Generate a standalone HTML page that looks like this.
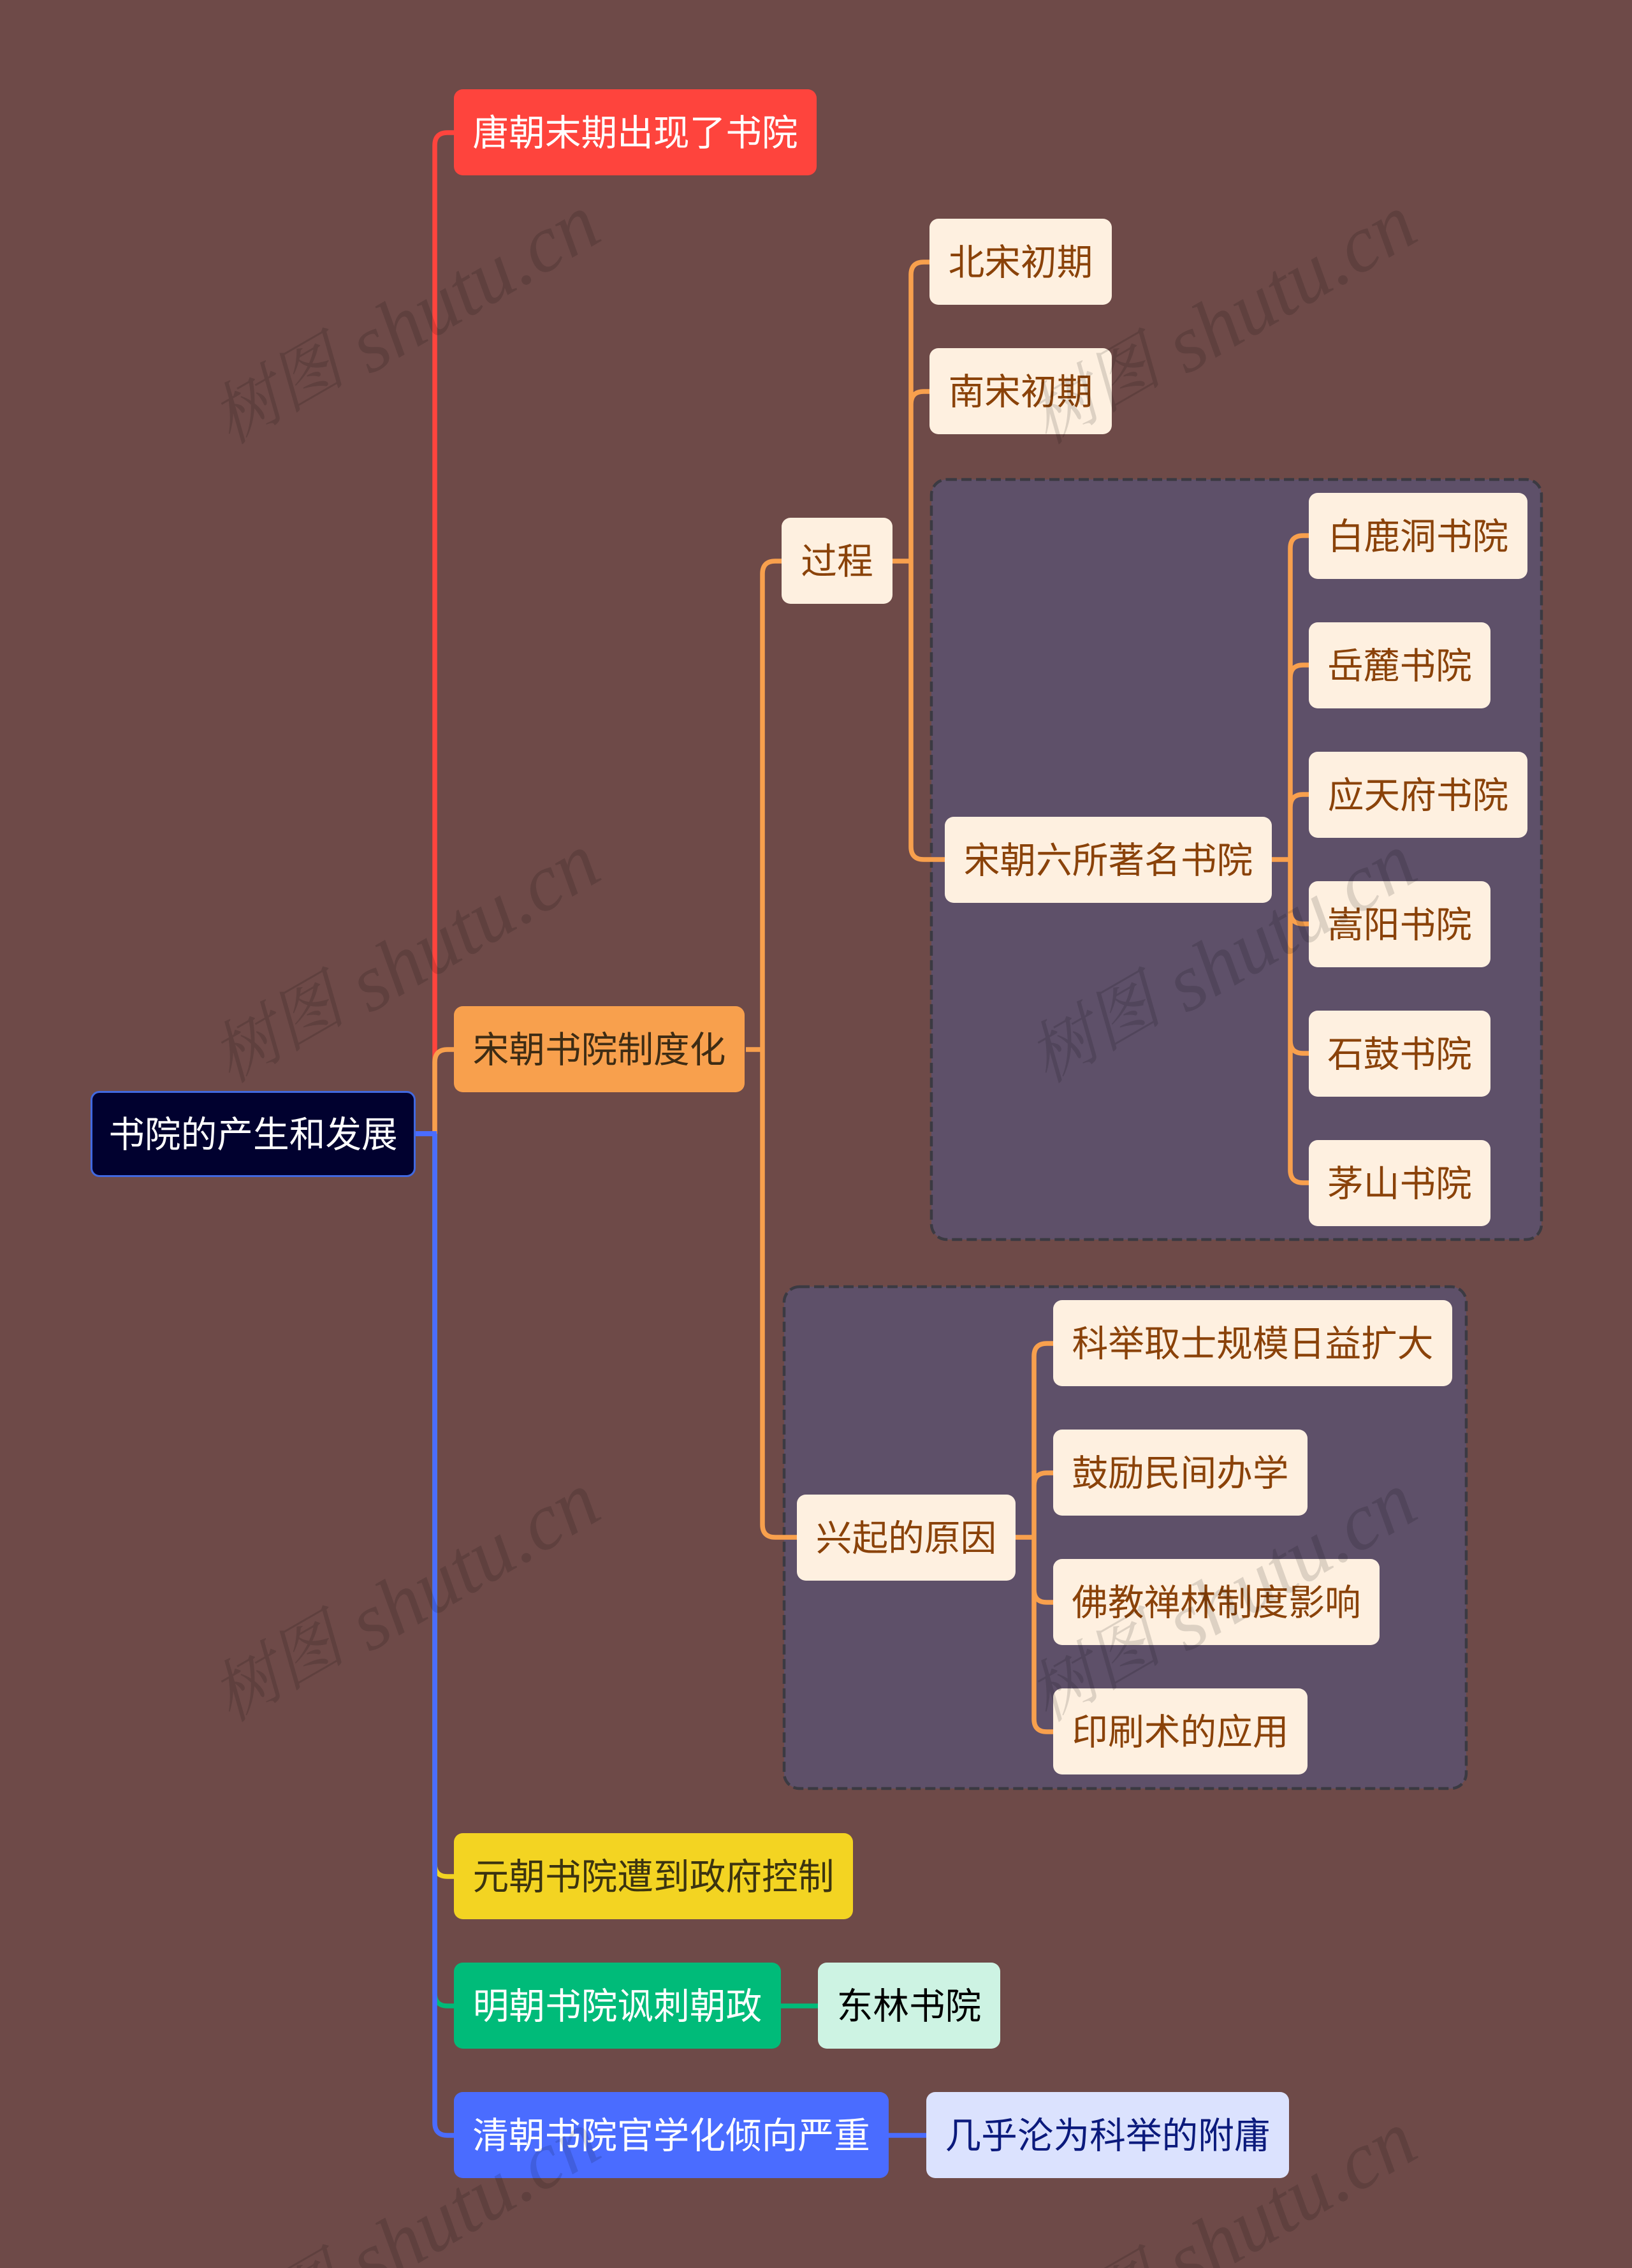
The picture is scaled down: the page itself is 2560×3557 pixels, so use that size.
<!DOCTYPE html>
<html lang="zh"><head><meta charset="utf-8"><title>书院的产生和发展</title>
<style>
html,body{margin:0;padding:0;background:#6e4a48}
#p{position:relative;width:2560px;height:3557px;overflow:hidden;background:#6e4a48;font-family:"Liberation Sans","WenQuanYi Zen Hei","Noto Sans CJK SC",sans-serif}
svg{position:absolute;left:0;top:0}
.n{position:absolute;box-sizing:border-box;height:135px;padding-top:6px;border-radius:14px;display:flex;align-items:center;justify-content:center;font-size:56.7px;line-height:1;white-space:nowrap}
.c{background:#fef0e0;color:#8a4209}
</style></head><body><div id="p">
<svg width="2560" height="3557" fill="none" stroke-width="7.5">
<rect x="1461" y="752" width="957" height="1192" rx="24" fill="#5e5069" stroke="#3b3a42" stroke-width="4.5" stroke-dasharray="16 7"/>
<rect x="1230" y="2018" width="1070" height="787" rx="24" fill="#5e5069" stroke="#3b3a42" stroke-width="4.5" stroke-dasharray="16 7"/>
<g stroke="#f8a04d">
<path d="M1170 1646H1196M1196 1646V900Q1196 880 1216 880H1226M1196 1646V2391Q1196 2411 1216 2411H1250"/>
<path d="M1400 880H1429M1429 880V431Q1429 411 1449 411H1459M1429 880V634Q1429 614 1449 614H1459M1429 880V1328Q1429 1348 1449 1348H1483"/>
<path d="M1995 1348H2024M2024 1348V860Q2024 840 2044 840H2053M2024 1348V1063Q2024 1043 2044 1043H2053M2024 1348V1266Q2024 1246 2044 1246H2053M2024 1348V1429Q2024 1449 2044 1449H2053M2024 1348V1632Q2024 1652 2044 1652H2053M2024 1348V1835Q2024 1855 2044 1855H2053"/>
<path d="M1593 2411H1622M1622 2411V2127Q1622 2107 1642 2107H1652M1622 2411V2330Q1622 2310 1642 2310H1652M1622 2411V2493Q1622 2513 1642 2513H1652M1622 2411V2696Q1622 2716 1642 2716H1652"/>
</g>
<path d="M682 1778V228Q682 208 702 208H712" stroke="#fe443d"/>
<path d="M682 1778V1666Q682 1646 702 1646H712" stroke="#f8a04d"/>
<path d="M682 1778V2923Q682 2943 702 2943H712" stroke="#f3d422"/>
<path d="M682 1778V3126Q682 3146 702 3146H712" stroke="#00bb79"/>
<path d="M682 1778V3329Q682 3349 702 3349H712" stroke="#4a6cff"/>
<path d="M652 1778H685" stroke="#4a6cff" stroke-width="8"/>
<path d="M1225 3146H1283" stroke="#00bb79"/>
<path d="M1394 3349H1453" stroke="#4a6cff"/>
</svg>
<div class="n" style="left:142px;top:1711px;width:510px;background:#01012f;color:#fff;border:3px solid #4169e0">书院的产生和发展</div>
<div class="n" style="left:712px;top:140px;width:569px;background:#fe443d;color:#fff">唐朝末期出现了书院</div>
<div class="n" style="left:712px;top:1578px;width:456px;background:#f8a04d;color:#3e2c14">宋朝书院制度化</div>
<div class="n c" style="left:1226px;top:812px;width:174px">过程</div>
<div class="n c" style="left:1458px;top:343px;width:286px">北宋初期</div>
<div class="n c" style="left:1458px;top:546px;width:286px">南宋初期</div>
<div class="n c" style="left:1482px;top:1281px;width:513px">宋朝六所著名书院</div>
<div class="n c" style="left:2053px;top:773px;width:343px">白鹿洞书院</div>
<div class="n c" style="left:2053px;top:976px;width:285px">岳麓书院</div>
<div class="n c" style="left:2053px;top:1179px;width:343px">应天府书院</div>
<div class="n c" style="left:2053px;top:1382px;width:285px">嵩阳书院</div>
<div class="n c" style="left:2053px;top:1585px;width:285px">石鼓书院</div>
<div class="n c" style="left:2053px;top:1788px;width:285px">茅山书院</div>
<div class="n c" style="left:1250px;top:2344px;width:343px">兴起的原因</div>
<div class="n c" style="left:1652px;top:2039px;width:626px">科举取士规模日益扩大</div>
<div class="n c" style="left:1652px;top:2242px;width:399px">鼓励民间办学</div>
<div class="n c" style="left:1652px;top:2445px;width:512px">佛教禅林制度影响</div>
<div class="n c" style="left:1652px;top:2648px;width:399px">印刷术的应用</div>
<div class="n" style="left:712px;top:2875px;width:626px;background:#f3d422;color:#3c3410">元朝书院遭到政府控制</div>
<div class="n" style="left:712px;top:3078px;width:513px;background:#00bb79;color:#fff">明朝书院讽刺朝政</div>
<div class="n" style="left:1283px;top:3078px;width:286px;background:#cdf3e3;color:#000">东林书院</div>
<div class="n" style="left:712px;top:3281px;width:682px;background:#4a6cff;color:#fff">清朝书院官学化倾向严重</div>
<div class="n" style="left:1453px;top:3281px;width:569px;background:#dbe2fe;color:#0b1a7c">几乎沦为科举的附庸</div>
<svg width="2560" height="3557" style="pointer-events:none">
<g font-family="'Liberation Serif','Noto Serif CJK SC',serif" font-style="italic" font-size="127" fill="#000" fill-opacity=".13">
<text transform="translate(368,710) rotate(-30)"><tspan font-size="106" dy="-14">树图</tspan><tspan dy="14"> shutu.cn</tspan></text>
<text transform="translate(1649,710) rotate(-30)"><tspan font-size="106" dy="-14">树图</tspan><tspan dy="14"> shutu.cn</tspan></text>
<text transform="translate(368,1712) rotate(-30)"><tspan font-size="106" dy="-14">树图</tspan><tspan dy="14"> shutu.cn</tspan></text>
<text transform="translate(1649,1712) rotate(-30)"><tspan font-size="106" dy="-14">树图</tspan><tspan dy="14"> shutu.cn</tspan></text>
<text transform="translate(368,2714) rotate(-30)"><tspan font-size="106" dy="-14">树图</tspan><tspan dy="14"> shutu.cn</tspan></text>
<text transform="translate(1649,2714) rotate(-30)"><tspan font-size="106" dy="-14">树图</tspan><tspan dy="14"> shutu.cn</tspan></text>
<text transform="translate(460,3663) rotate(-30)"><tspan font-size="106" dy="-14">图</tspan><tspan dy="14"> shutu.cn</tspan></text>
<text transform="translate(1741,3663) rotate(-30)"><tspan font-size="106" dy="-14">图</tspan><tspan dy="14"> shutu.cn</tspan></text>
</g></svg>
</div></body></html>
